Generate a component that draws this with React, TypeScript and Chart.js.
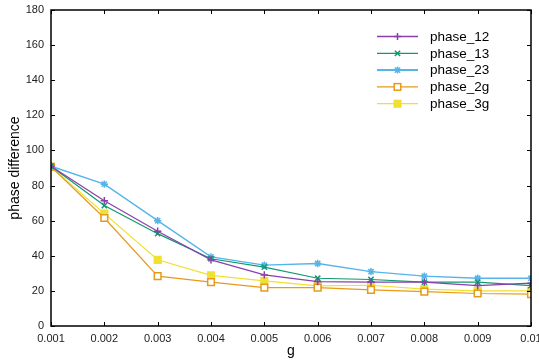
import React, { useEffect, useRef } from "react";
import { Chart, registerables } from "chart.js";

Chart.register(...registerables);

const gValues = [0.001, 0.002, 0.003, 0.004, 0.005, 0.006, 0.007, 0.008, 0.009, 0.01];
const phase12 = [91, 71.4, 54, 37.7, 29.1, 25.3, 25, 25, 23, 24.4];
const phase13 = [91, 68.6, 52.6, 38.3, 33.5, 27.2, 26.5, 25, 25, 23];
const phase23 = [91, 80.8, 60, 39.4, 34.7, 35.6, 31, 28.4, 27.2, 27.2];
const phase2g = [90.7, 61.5, 28.4, 25, 21.9, 21.9, 20.6, 19.6, 18.5, 18.1];
const phase3g = [90.7, 64, 37.7, 28.8, 25.7, 22.9, 23.2, 21, 20, 20];
const seriesNames = ["phase_12", "phase_13", "phase_23", "phase_2g", "phase_3g"];
const seriesColors = ["#8a3fae", "#0f9a6e", "#56b4e9", "#e69a1a", "#f0e030"];
const seriesStyles = ["cross", "crossRot", "star", "rect", "rect"];
const seriesFill = [null, null, null, "#ffffff", "#f0e030"];
const xTicks = [0.001, 0.002, 0.003, 0.004, 0.005, 0.006, 0.007, 0.008, 0.009, 0.01];
const yTicks = [0, 20, 40, 60, 80, 100, 120, 140, 160, 180];

const FONT = "'Liberation Sans', Arial, sans-serif";

function marker(ctx: CanvasRenderingContext2D, i: number, x: number, y: number) {
  const r = 3.5;
  ctx.strokeStyle = seriesColors[i];
  ctx.lineWidth = 1.5;
  const st = seriesStyles[i];
  ctx.beginPath();
  if (st === "cross" || st === "star") {
    ctx.moveTo(x - r, y);
    ctx.lineTo(x + r, y);
    ctx.moveTo(x, y - r);
    ctx.lineTo(x, y + r);
  }
  if (st === "crossRot" || st === "star") {
    const d = r * 0.75;
    ctx.moveTo(x - d, y - d);
    ctx.lineTo(x + d, y + d);
    ctx.moveTo(x - d, y + d);
    ctx.lineTo(x + d, y - d);
  }
  ctx.stroke();
  if (st === "rect") {
    ctx.fillStyle = seriesFill[i] as string;
    ctx.fillRect(x - 3.3, y - 3.3, 6.6, 6.6);
    ctx.strokeRect(x - 3.3, y - 3.3, 6.6, 6.6);
  }
}

const framePlugin = {
  id: "frame",
  afterDraw(chart: any) {
    const { ctx, chartArea } = chart;
    const { left, right, top, bottom } = chartArea;
    const xs = chart.scales.x;
    const ys = chart.scales.y;
    ctx.save();
    ctx.strokeStyle = "#000";
    ctx.lineWidth = 1.5;
    ctx.beginPath();
    ctx.rect(left, top, right - left, bottom - top);
    ctx.stroke();
    ctx.lineWidth = 1;
    ctx.beginPath();
    for (const v of xTicks) {
      const px = Math.round(xs.getPixelForValue(v)) + 0.5;
      ctx.moveTo(px, bottom);
      ctx.lineTo(px, bottom - 4);
      ctx.moveTo(px, top);
      ctx.lineTo(px, top + 4);
    }
    for (const v of yTicks) {
      const py = Math.round(ys.getPixelForValue(v)) + 0.5;
      ctx.moveTo(left, py);
      ctx.lineTo(left + 4, py);
      ctx.moveTo(right, py);
      ctx.lineTo(right - 4, py);
    }
    ctx.stroke();

    // legend
    const lx0 = 377, lx1 = 418, tx = 430;
    let ly = 36;
    ctx.font = `13.5px ${FONT}`;
    ctx.textBaseline = "middle";
    ctx.textAlign = "left";
    seriesNames.forEach((name, i) => {
      ctx.strokeStyle = seriesColors[i];
      ctx.lineWidth = i === 2 ? 2 : 1.3;
      ctx.beginPath();
      ctx.moveTo(lx0, ly + 0.5);
      ctx.lineTo(lx1, ly + 0.5);
      ctx.stroke();
      marker(ctx, i, (lx0 + lx1) / 2, ly + 0.5);
      ctx.fillStyle = "#000";
      ctx.fillText(name, tx, ly + 1);
      ly += 16.8;
    });
    ctx.restore();
  },
};

export default function App() {
  const ref = useRef<HTMLCanvasElement | null>(null);
  useEffect(() => {
    document.body.style.margin = "0";
    const all = [phase12, phase13, phase23, phase2g, phase3g];
    const chart = new Chart(ref.current as HTMLCanvasElement, {
      type: "line",
      data: {
        datasets: all.map((arr, i) => ({
          label: seriesNames[i],
          data: arr.map((y, j) => ({ x: gValues[j], y })),
          borderColor: seriesColors[i],
          backgroundColor: seriesFill[i] ?? seriesColors[i],
          pointBorderColor: seriesColors[i],
          pointBackgroundColor: seriesFill[i] ?? seriesColors[i],
          pointStyle: seriesStyles[i] as any,
          pointRadius: seriesStyles[i] === "rect" ? 4.7 : 3.7,
          pointBorderWidth: 1.5,
          borderWidth: i === 2 ? 1.4 : 1.2,
          tension: 0,
          fill: false,
        })),
      },
      options: {
        animation: false,
        responsive: false,
        maintainAspectRatio: false,
        layout: { padding: { top: 10, right: 8, left: 0, bottom: 0 } },
        plugins: { legend: { display: false }, tooltip: { enabled: false } },
        scales: {
          x: {
            type: "linear",
            min: 0.001,
            max: 0.01,
            afterBuildTicks: (scale: any) => {
              scale.ticks = xTicks.map((v) => ({ value: v }));
            },
            afterFit: (scale: any) => {
              scale.height = 34;
              scale.paddingLeft = 0;
              scale.paddingRight = 0;
            },
            grid: { display: false, drawTicks: false },
            border: { display: false },
            ticks: {
              font: { family: FONT, size: 11 },
              color: "#222",
              padding: 6,
              maxRotation: 0,
              autoSkip: false,
              callback: (v: any) => (Math.abs(v - 0.01) < 1e-9 ? "0.01" : Number(v).toFixed(3)),
            },
            title: {
              display: true,
              text: "g",
              font: { family: FONT, size: 14 },
              color: "#000",
              padding: { top: 0, bottom: 0 },
            },
          },
          y: {
            type: "linear",
            min: 0,
            max: 180,
            afterBuildTicks: (scale: any) => {
              scale.ticks = yTicks.map((v) => ({ value: v }));
            },
            afterFit: (scale: any) => {
              scale.width = 51;
              scale.paddingTop = 0;
              scale.paddingBottom = 0;
            },
            grid: { display: false, drawTicks: false },
            border: { display: false },
            ticks: {
              font: { family: FONT, size: 11 },
              color: "#222",
              padding: 7,
              autoSkip: false,
            },
            title: {
              display: true,
              text: "phase difference",
              font: { family: FONT, size: 14 },
              color: "#000",
              padding: { top: 7, bottom: 0 },
            },
          },
        },
      },
      plugins: [framePlugin],
    });
    return () => chart.destroy();
  }, []);
  return (
    <div style={{ position: "absolute", left: 0, top: 0, width: 539, height: 360 }}>
      <canvas ref={ref} width={539} height={360} style={{ width: 539, height: 360 }} />
    </div>
  );
}
